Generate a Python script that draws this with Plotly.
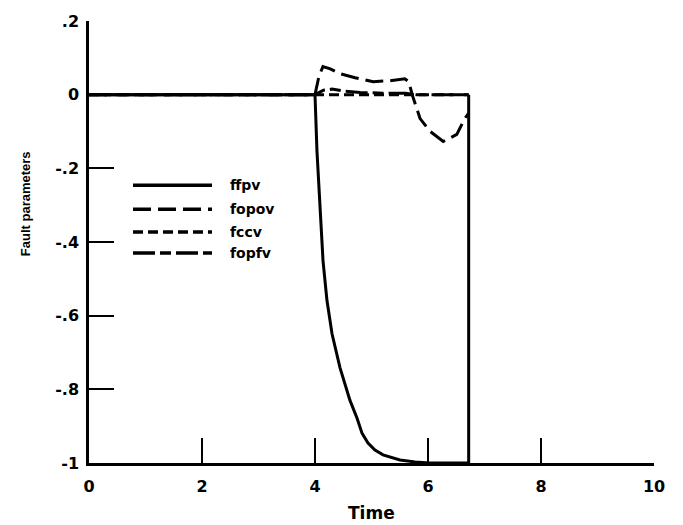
import plotly.graph_objects as go

# ---- data ----
series_names = ["ffpv", "fopov", "fccv", "fopfv"]

ffpv_t = [0.0, 4.0, 4.035, 4.088, 4.142, 4.212, 4.301, 4.442, 4.619, 4.743, 4.832, 4.938, 5.062, 5.204, 5.327, 5.504, 5.77, 6.035, 6.72, 6.72]
ffpv_v = [0.0, 0.0, -0.154, -0.316, -0.451, -0.559, -0.649, -0.741, -0.830, -0.878, -0.919, -0.946, -0.965, -0.978, -0.984, -0.992, -0.997, -1.0, -1.0, 0.0]

fopov_t = [0.0, 4.0, 4.07, 4.14, 4.27, 4.44, 4.71, 5.03, 5.33, 5.59, 5.66, 5.72, 5.86, 6.04, 6.27, 6.51, 6.65, 6.72]
fopov_v = [0.0, 0.0, 0.05, 0.076, 0.07, 0.057, 0.046, 0.035, 0.038, 0.043, 0.035, 0.0, -0.065, -0.10, -0.127, -0.108, -0.065, -0.05]

fccv_t = [0.0, 4.0, 6.72]
fccv_v = [0.0, 0.0, 0.0]

fopfv_t = [0.0, 4.0, 4.15, 4.3, 4.5, 4.8, 5.2, 5.6, 5.8, 6.2, 6.72]
fopfv_v = [0.0, 0.0, 0.012, 0.015, 0.01, 0.006, 0.004, 0.004, 0.0, 0.0, 0.0]

x_tickvals = [0, 2, 4, 6, 8, 10]
x_ticktext = ["0", "2", "4", "6", "8", "10"]
y_tickvals = [0.2, 0.0, -0.2, -0.4, -0.6, -0.8, -1.0]
y_ticktext = [".2", "0", "-.2", "-.4", "-.6", "-.8", "-1"]

x_title = "Time"
y_title = "Fault parameters"

# ---- styles ----
dashes = ["solid", "18px,7px", "10px,5px", "22px,5px,11px,5px"]
FONT_W = "DejaVu Sans, Verdana, sans-serif"
FONT_N = "Liberation Sans, Arial, Helvetica, sans-serif"

W, H = 683, 525
L, R, T, B = 89, 29, 19, 62
pw, ph = W - L - R, H - T - B

fig = go.Figure()
all_t = [ffpv_t, fopov_t, fccv_t, fopfv_t]
all_v = [ffpv_v, fopov_v, fccv_v, fopfv_v]
# draw dashed first, solid on top
for i in [3, 2, 1, 0]:
    fig.add_trace(go.Scatter(
        x=all_t[i], y=all_v[i], mode="lines", name=series_names[i],
        line=dict(color="black", width=3, dash=dashes[i]),
        showlegend=False, cliponaxis=True))

# custom legend (long sample lines like the original)
def px2x(px):
    return (px - L) / pw

def py2y(py):
    return (H - B - py) / ph

shapes = []
annotations = []
leg_rows = [184, 208, 231, 252]
for i, name in enumerate(series_names):
    yy = py2y(leg_rows[i])
    shapes.append(dict(type="line", xref="paper", yref="paper",
                       x0=px2x(133), x1=px2x(212), y0=yy, y1=yy,
                       line=dict(color="black", width=3.5, dash=dashes[i])))
    annotations.append(dict(xref="paper", yref="paper", x=px2x(228), y=yy,
                            text=name, showarrow=False, xanchor="left", yanchor="middle",
                            font=dict(family=FONT_W, size=14, color="black", weight="bold")))

annotations.append(dict(xref="paper", yref="paper", x=px2x(371), y=py2y(513),
                        text=x_title, showarrow=False, xanchor="center", yanchor="middle",
                        font=dict(family=FONT_W, size=17, color="black", weight="bold")))
annotations.append(dict(xref="paper", yref="paper", x=px2x(25), y=py2y(203),
                        text=y_title, showarrow=False, textangle=-90,
                        xanchor="center", yanchor="middle",
                        font=dict(family=FONT_N, size=13, color="black", weight="bold")))

axis_common = dict(showline=True, linecolor="black", linewidth=2.5,
                   ticks="inside", ticklen=25, tickwidth=2, tickcolor="black",
                   showgrid=False, zeroline=False, mirror=False,
                   tickfont=dict(family=FONT_W, size=16, color="black", weight="bold"))

fig.update_layout(
    width=W, height=H,
    margin=dict(l=L, r=R, t=T, b=B, pad=0),
    paper_bgcolor="white", plot_bgcolor="white",
    showlegend=False,
    xaxis=dict(range=[0, 10], tickvals=x_tickvals, ticktext=x_ticktext,
               ticklabelstandoff=7, **axis_common),
    yaxis=dict(range=[-1, 0.2], tickvals=y_tickvals, ticktext=y_ticktext,
               ticklabelstandoff=4, **axis_common),
    shapes=shapes, annotations=annotations,
)

fig.write_html("out.html")
